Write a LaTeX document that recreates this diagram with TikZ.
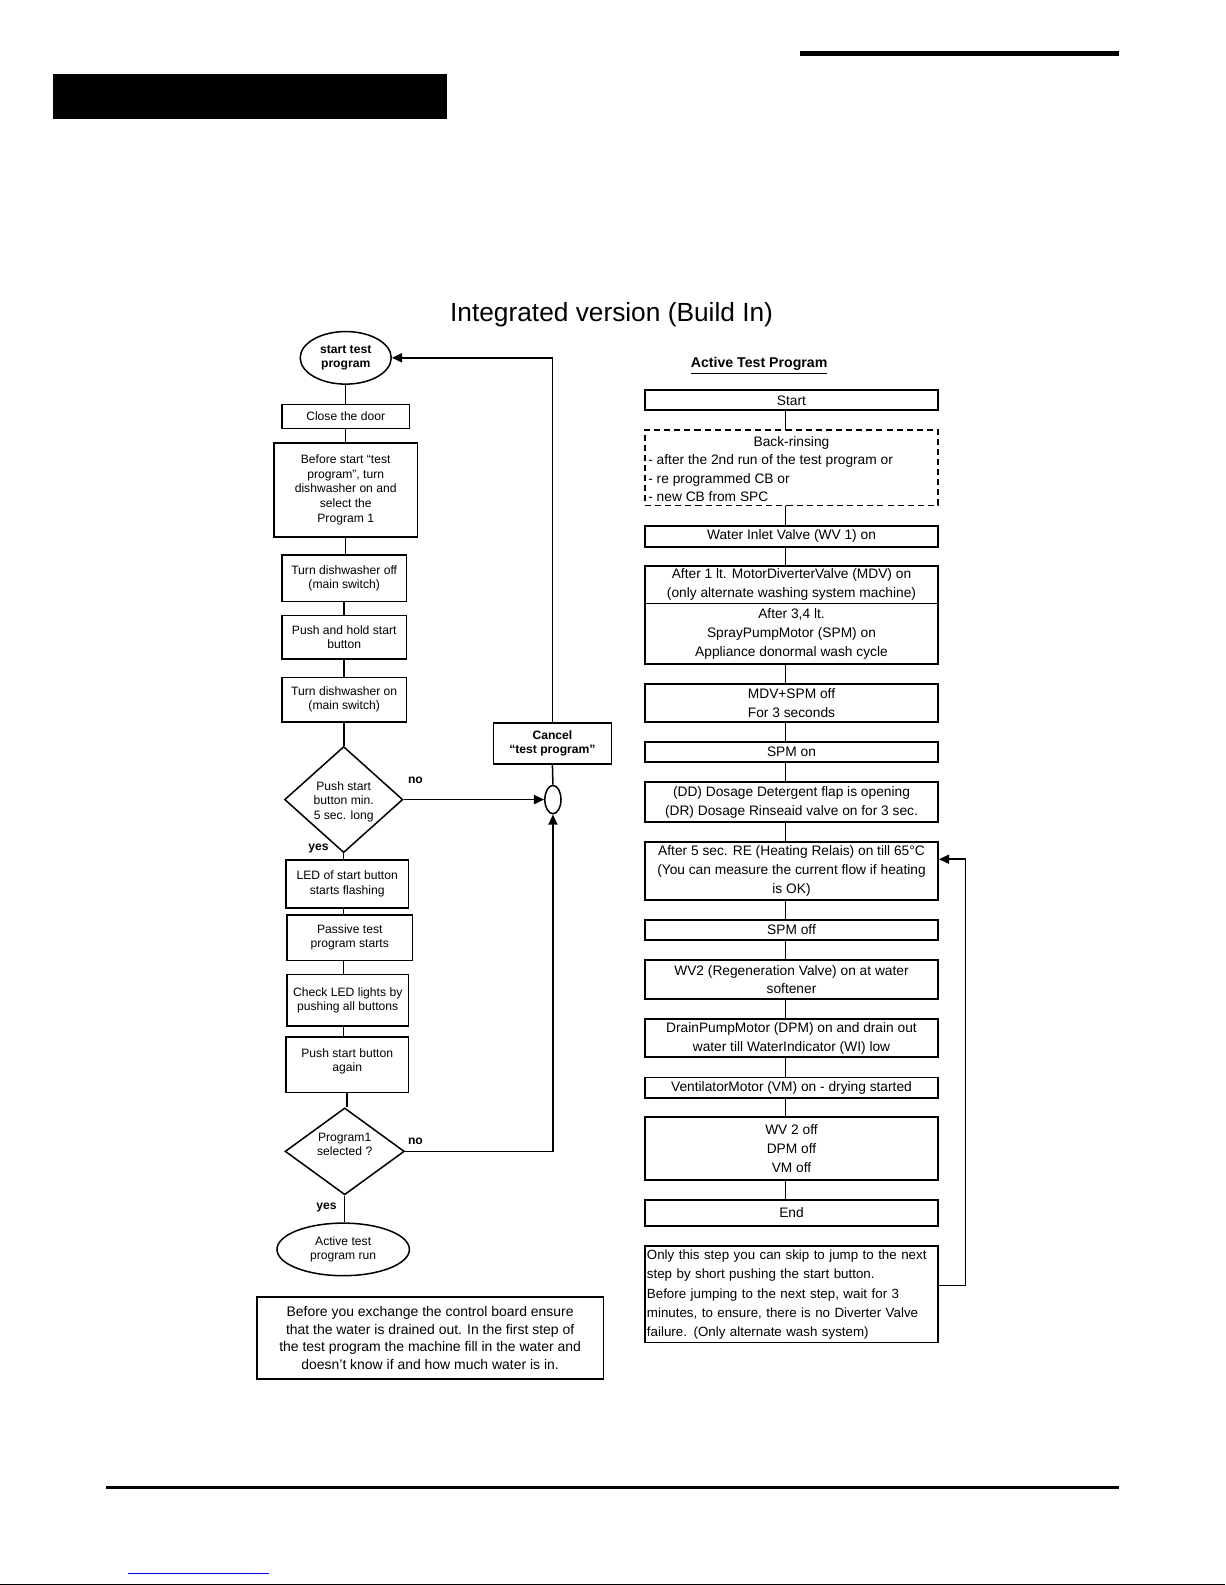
\documentclass[tikz,border=0pt]{standalone}
\usepackage{fontspec}
\setmainfont{Liberation Sans}
\usetikzlibrary{shapes.geometric,arrows.meta}
\begin{document}
\begin{tikzpicture}[x=0.5pt,y=-0.5pt,
  conn/.style={line width=0.75pt},
  arr/.style={line width=0.75pt,-{Triangle[length=5pt,width=4.5pt]}},
  lbox/.style={draw,line width=0.75pt,inner sep=0pt,align=center,font=\fontsize{6}{7.2}\selectfont},
  lell/.style={draw,ellipse,line width=0.75pt,inner sep=0pt,align=center,font=\bfseries\fontsize{6}{7.2}\selectfont},
  dia/.style={draw,diamond,line width=0.75pt,inner sep=0pt},
  ltext/.style={inner sep=0pt,align=center,font=\fontsize{6}{7.2}\selectfont},
  lab/.style={inner sep=0pt,font=\bfseries\fontsize{6}{7.2}\selectfont},
  rbox/.style={draw,line width=0.9pt,inner sep=0pt,align=center,minimum width=145pt,font=\fontsize{6.8}{9.3}\selectfont},
  bar/.style={fill=black,draw=none}
]
\useasboundingbox (0,0) rectangle (1212,1568);
% page decorations
\path[bar] (791,50) rectangle (1107,55);
\path[bar] (52,73) rectangle (442,118);
\path[bar] (105,1470) rectangle (1107,1473);
\draw[blue,line width=0.5pt] (127,1557) -- (266,1557);
\draw[black,line width=0.5pt] (0,1567) -- (1212,1567);

% title
\node[inner sep=0pt,font=\fontsize{13}{15}\selectfont] (title) at (605,311) {Integrated version (Build In)};

% ---------- left flowchart ----------
\node[lell,minimum width=45pt,minimum height=26pt] (start) at (342,354) {start test\\program};
\node[lbox,minimum width=63pt,minimum height=12pt] (close) at (342,412) {Close the door};
\node[lbox,minimum width=71pt,minimum height=46.5pt] (before) at (342,484.5) {Before start “test\\program”, turn\\dishwasher on and\\select the\\Program 1};
\node[lbox,minimum width=61.5pt,minimum height=23pt] (off) at (340.5,572) {Turn dishwasher off\\(main switch)};
\node[lbox,minimum width=61.5pt,minimum height=21.5pt] (hold) at (340.5,630.5) {Push and hold start\\button};
\node[lbox,minimum width=61.5pt,minimum height=22pt] (on) at (340.5,692) {Turn dishwasher on\\(main switch)};
\node[dia,minimum width=58.5pt,minimum height=52.5pt] (d1) at (340,791) {};
\node[ltext] (d1t) at (340,793) {Push start\\button min.\\5 sec. long};
\node[lbox,minimum width=60.5pt,minimum height=23.5pt] (led) at (343.5,874.5) {LED of start button\\starts flashing};
\node[lbox,minimum width=62pt,minimum height=22.5pt] (passive) at (346,927.5) {Passive test\\program starts};
\node[lbox,minimum width=60pt,minimum height=25.5pt] (check) at (344,989.5) {Check LED lights by\\pushing all buttons};
\node[lbox,minimum width=60.5pt,minimum height=27.5pt] (again) at (343.5,1053.5) {};
\node[ltext] (againt) at (343.5,1050) {Push start button\\again};
\node[dia,minimum width=59pt,minimum height=43pt] (d2) at (341,1139) {};
\node[ltext] (d2t) at (341,1132) {Program1\\selected ?};
\node[lell,minimum width=65.5pt,minimum height=26pt,font=\fontsize{6}{7.2}\selectfont] (run) at (339.5,1236) {Active test\\program run};
\node[lbox,minimum width=171.5pt,minimum height=40.5pt,font=\fontsize{6.9}{8.75}\selectfont] (note1) at (425.5,1323.5) {Before you exchange the control board ensure\\that the water is drained out. In the first step of\\the test program the machine fill in the water and\\doesn’t know if and how much water is in.};

\node[lbox,minimum width=58.5pt,minimum height=20.5pt,font=\bfseries\fontsize{6}{7.2}\selectfont] (cancel) at (546.5,735.5) {Cancel\\“test program”};
\node[draw,ellipse,line width=0.75pt,inner sep=0pt,minimum width=8pt,minimum height=14pt] (sm) at (547,791) {};

\node[lab] (no1) at (411,772) {no};
\node[lab] (no2) at (411,1129) {no};
\node[lab] (yes1) at (315,839) {yes};
\node[lab] (yes2) at (323,1195) {yes};

\draw[conn] (start.south) -- (start.south |- close.north);
\draw[conn] (close.south) -- (close.south |- before.north);
\draw[conn] (before.south) -- (before.south |- off.north);
\draw[conn] (off.south) -- (off.south |- hold.north);
\draw[conn] (hold.south) -- (hold.south |- on.north);
\draw[conn] (on.south) -- (on.south |- d1.north);
\draw[conn] (d1.south) -- (d1.south |- led.north);
\draw[conn] (led.south -| d1.south) -- (d1.south |- passive.north);
\draw[conn] (passive.south -| d1.south) -- (d1.south |- check.north);
\draw[conn] (check.south -| d1.south) -- (d1.south |- again.north);
\draw[conn] (again.south) -- (again.south |- d2.north);
\draw[conn] (d2.south) -- (d2.south |- run.north);
\draw[arr] (cancel.north) |- (start.east);
\draw[conn] (cancel.south) -- (sm.north);
\draw[arr] (d1.east) -- (sm.west);
\draw[arr] (d2.east) -| (sm.south);

% ---------- right flowchart ----------
\node[inner sep=0pt,font=\bfseries\fontsize{7}{8}\selectfont] (atp) at (751,362) {\underline{Active Test Program}};
\node[rbox,minimum height=10pt] (r1) at (783,396) {Start};
\node[rbox,minimum height=37.5pt,dashed,dash pattern=on 3pt off 2pt] (back) at (783,462.5) {};
\node[inner sep=0pt,font=\fontsize{6.8}{9.3}\selectfont] (backh) at (783,438) {Back-rinsing};
\node[inner sep=0pt,anchor=north west,align=left,font=\fontsize{6.8}{9.3}\selectfont] (backt) at (641,449) {- after the 2nd run of the test program or\\- re programmed CB or\\- new CB from SPC};
\node[rbox,minimum height=10.5pt] (r2) at (783,530.5) {Water Inlet Valve (WV 1) on};
\node[rbox,minimum height=18.5pt] (r3) at (783,578.5) {After 1 lt. MotorDiverterValve (MDV) on\\(only alternate washing system machine)};
\node[rbox,minimum height=30pt] (r4) at (783,627) {After 3,4 lt.\\SprayPumpMotor (SPM) on\\Appliance donormal wash cycle};
\node[rbox,minimum height=18.5pt] (r5) at (783,695.5) {MDV+SPM off\\For 3 seconds};
\node[rbox,minimum height=10pt] (r6) at (783,744) {SPM on};
\node[rbox,minimum height=19.5pt] (r7) at (783,793.5) {(DD) Dosage Detergent flap is opening\\(DR) Dosage Rinseaid valve on for 3 sec.};
\node[rbox,minimum height=28.5pt] (r8) at (783,861.5) {After 5 sec. RE (Heating Relais) on till 65°C\\(You can measure the current flow if heating\\is OK)};
\node[rbox,minimum height=10pt] (r9) at (783,920) {SPM off};
\node[rbox,minimum height=19pt] (r10) at (783,969) {WV2 (Regeneration Valve) on at water\\softener};
\node[rbox,minimum height=19pt] (r11) at (783,1027) {DrainPumpMotor (DPM) on and drain out\\water till WaterIndicator (WI) low};
\node[rbox,minimum height=10pt] (r12) at (783,1076) {VentilatorMotor (VM) on - drying started};
\node[rbox,minimum height=31pt] (r13) at (783,1136) {WV 2 off\\DPM off\\VM off};
\node[rbox,minimum height=13pt] (r14) at (783,1200) {End};
\node[rbox,minimum height=47.5pt,text width=143pt,inner xsep=1pt,align=left,font=\fontsize{6.6}{9.3}\selectfont] (note2) at (783,1280.5) {Only this step you can skip to jump to the next\\step by short pushing the start button.\\[1pt]Before jumping to the next step, wait for 3\\minutes, to ensure, there is no Diverter Valve\\failure. (Only alternate wash system)};

\foreach \a/\b in {r1/back,back/r2,r2/r3,r4/r5,r5/r6,r6/r7,r7/r8,r8/r9,r9/r10,r10/r11,r11/r12,r12/r13,r13/r14}
  \draw[conn] ([xshift=-3pt]\a.south) -- ([xshift=-3pt]\b.north);
\coordinate (fb) at (955,850);
\draw[arr] ([yshift=4.5pt]note2.east) -| (fb) -- ([yshift=5.75pt]r8.east);
\end{tikzpicture}
\end{document}
